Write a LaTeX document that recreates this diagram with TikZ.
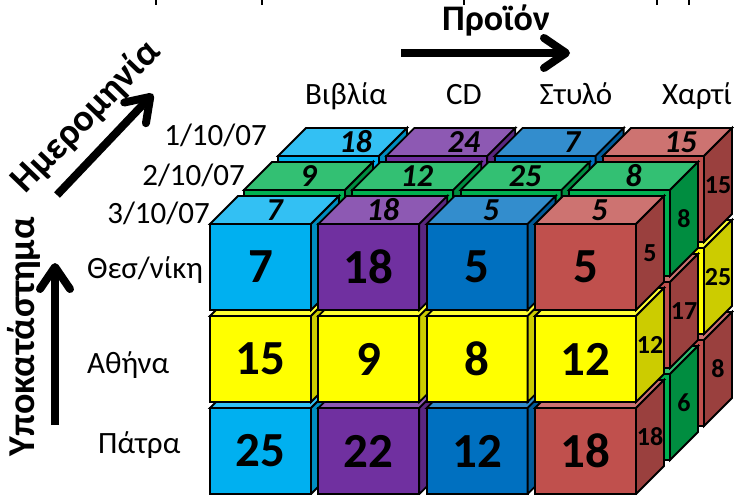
\documentclass[tikz,border=0pt]{standalone}
\usepackage{fontspec}
\setmainfont{Carlito}
\usepackage{xcolor}
\usepackage{tikz}
\usetikzlibrary{arrows.meta}

\definecolor{skyblue}{HTML}{00B0F0}
\definecolor{cdpurple}{HTML}{7030A0}
\definecolor{penblue}{HTML}{0070C0}
\definecolor{paperred}{HTML}{C0504D}
\definecolor{cityyellow}{HTML}{FFFF00}
\definecolor{dategreen}{HTML}{00B050}

\def\cw{101}
\def\ch{86}
\def\cd{28}

% name, x, y, colour, front, top, side
\newcommand{\datacube}[7]{%
  \begin{scope}[shift={(#2,#3)}]
    \draw[face, fill=#4] (0,0) rectangle (\cw,\ch);
    \draw[face, fill=#4!80!white] (0,0) -- (\cd,-\cd) -- (\cw+\cd,-\cd) -- (\cw,0) -- cycle;
    \draw[face, fill=#4!80!black] (\cw,0) -- (\cw+\cd,-\cd) -- (\cw+\cd,\ch-\cd) -- (\cw,\ch) -- cycle;
    \if\relax\detokenize{#5}\relax\else\node[frontnum] (#1f) at (\cw/2,\ch/2) {#5};\fi
    \if\relax\detokenize{#6}\relax\else\node[topnum] (#1t) at (\cw/2+\cd/2,-\cd/2) {#6};\fi
    \if\relax\detokenize{#7}\relax\else\node[sidenum] (#1s) at (\cw+\cd/2,\ch/2-\cd/2) {#7};\fi
  \end{scope}}

\begin{document}
\begin{tikzpicture}[x=1pt, y=-1pt,
  face/.style={draw=black, line width=1.8pt},
  frontnum/.style={font=\fontsize{49}{58}\selectfont\bfseries},
  topnum/.style={font=\fontsize{32}{38}\selectfont\bfseries\itshape},
  sidenum/.style={font=\fontsize{26}{31}\selectfont\bfseries},
  lbl/.style={font=\fontsize{31}{37}\selectfont, inner sep=0pt},
  axislbl/.style={font=\fontsize{38}{45}\selectfont\bfseries, inner sep=0pt},
  axis/.style={line width=8pt, -{Straight Barb[length=22pt, width=30pt, round]}},
  tick/.style={line width=2pt}
]
\useasboundingbox (0,0) rectangle (734,495);
\clip (0,0) rectangle (734,495);

\foreach \tx in {156,262,464,657,689}
  \draw[tick] (\tx,0) -- (\tx,5);

% 1/10/07
\begin{scope}[topnum/.append style={xshift=13}]
\datacube{b31}{278}{340}{skyblue}{}{}{}
\datacube{b32}{386.3}{340}{cdpurple}{}{}{}
\datacube{b33}{494.6}{340}{penblue}{}{}{}
\datacube{b34}{603}{340}{paperred}{}{}{8}
\datacube{b21}{278}{248}{cityyellow}{}{}{}
\datacube{b22}{386.3}{248}{cityyellow}{}{}{}
\datacube{b23}{494.6}{248}{cityyellow}{}{}{}
\datacube{b24}{603}{248}{cityyellow}{}{}{25}
\datacube{b11}{278}{156}{skyblue}{}{18}{}
\datacube{b12}{386.3}{156}{cdpurple}{}{24}{}
\datacube{b13}{494.6}{156}{penblue}{}{7}{}
\datacube{b14}{603}{156}{paperred}{}{15}{15}
\end{scope}

% 2/10/07
\datacube{m31}{244}{374}{dategreen}{}{}{}
\datacube{m32}{352.3}{374}{dategreen}{}{}{}
\datacube{m33}{460.6}{374}{dategreen}{}{}{}
\datacube{m34}{569}{374}{dategreen}{}{}{6}
\datacube{m21}{244}{282}{skyblue}{}{}{}
\datacube{m22}{352.3}{282}{cdpurple}{}{}{}
\datacube{m23}{460.6}{282}{penblue}{}{}{}
\datacube{m24}{569}{282}{paperred}{}{}{17}
\datacube{m11}{244}{190}{dategreen}{}{9}{}
\datacube{m12}{352.3}{190}{dategreen}{}{12}{}
\datacube{m13}{460.6}{190}{dategreen}{}{25}{}
\datacube{m14}{569}{190}{dategreen}{}{8}{8}

% 3/10/07
\datacube{f31}{210}{408}{skyblue}{25}{}{}
\datacube{f32}{318.3}{408}{cdpurple}{22}{}{}
\datacube{f33}{426.6}{408}{penblue}{12}{}{}
\datacube{f34}{535}{408}{paperred}{18}{}{18}
\datacube{f21}{210}{316}{cityyellow}{15}{}{}
\datacube{f22}{318.3}{316}{cityyellow}{9}{}{}
\datacube{f23}{426.6}{316}{cityyellow}{8}{}{}
\datacube{f24}{535}{316}{cityyellow}{12}{}{12}
\datacube{f11}{210}{224}{skyblue}{7}{7}{}
\datacube{f12}{318.3}{224}{cdpurple}{18}{18}{}
\datacube{f13}{426.6}{224}{penblue}{5}{5}{}
\datacube{f14}{535}{224}{paperred}{5}{5}{5}

\node[lbl, anchor=base] (books) at (346,105) {Βιβλία};
\node[lbl, anchor=base] (cds) at (464,105) {CD};
\node[lbl, anchor=base] (pens) at (576,105) {Στυλό};
\node[lbl, anchor=base] (paper) at (697,105) {Χαρτί};

\node[lbl, anchor=base east] (date1) at (267,145) {1/10/07};
\node[lbl, anchor=base east] (date2) at (245,185) {2/10/07};
\node[lbl, anchor=base east] (date3) at (210,223) {3/10/07};

\node[lbl, anchor=base west] (thess) at (87,278) {Θεσ/νίκη};
\node[lbl, anchor=base west] (athens) at (87,373) {Αθήνα};
\node[lbl, anchor=base west] (patras) at (98,453) {Πάτρα};

\node[axislbl, font=\fontsize{36}{43}\selectfont\bfseries, anchor=base] (product) at (496,31) {Προϊόν};
\node[axislbl, rotate=46] (date) at (86,117) {Ημερομηνία};
\node[axislbl, rotate=90] (store) at (24,337) {Υποκατάστημα};

\coordinate (prodstart) at (401,53);
\coordinate (prodend) at (570,53);
\coordinate (datestart) at (57,195);
\coordinate (dateend) at (153,94);
\coordinate (storestart) at (55,425);
\coordinate (storeend) at (55,263);

\draw[axis] (prodstart) -- (prodend);
\draw[axis] (datestart) -- (dateend);
\draw[axis] (storestart) -- (storeend);
\end{tikzpicture}
\end{document}
